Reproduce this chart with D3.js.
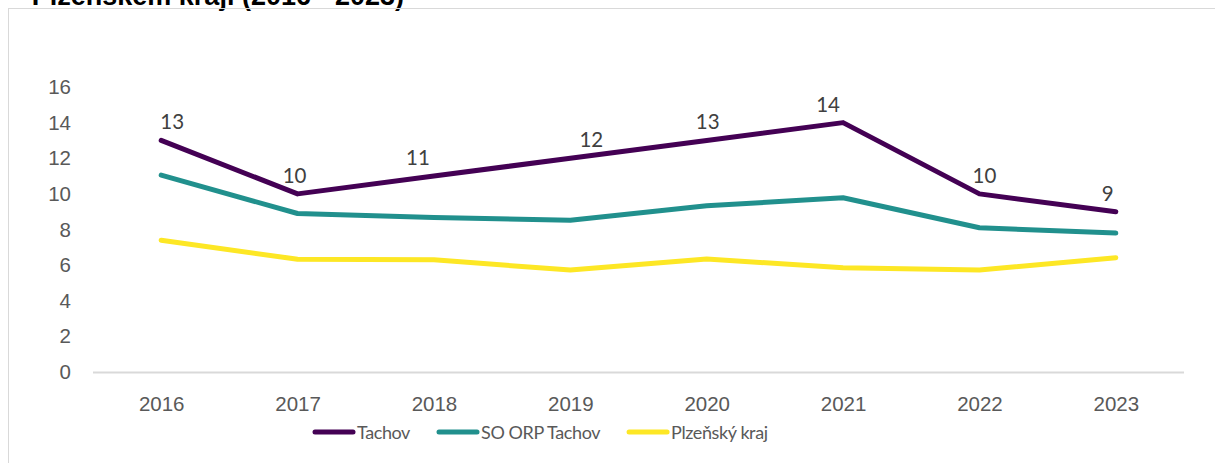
<!DOCTYPE html>
<html>
<head>
<meta charset="utf-8">
<script src="https://cdn.jsdelivr.net/npm/d3@7"></script>
<style>
  body { margin: 0; background: #fff; }
  svg { display: block; font-family: Lato, "Open Sans", sans-serif; }
  .tick text { fill: #595959; font-size: 20.5px; }
  .dataLabel { fill: #404040; font-size: 20.5px; }
  .legendText { fill: #595959; font-size: 18px; letter-spacing: -0.4px; }
</style>
</head>
<body>
<svg id="chart" width="1215" height="463"></svg>
<script>
var years = ["2016", "2017", "2018", "2019", "2020", "2021", "2022", "2023"];
var tachov = [13, 10, 11, 12, 13, 14, 10, 9];
var soOrpTachov = [11.05, 8.9, 8.68, 8.52, 9.33, 9.78, 8.1, 7.8];
var plzenskyKraj = [7.4, 6.33, 6.3, 5.72, 6.35, 5.85, 5.73, 6.42];
var yTicks = [0, 2, 4, 6, 8, 10, 12, 14, 16];

var series = [
   {name: "Tachov", values: tachov, color: "#440154"},
   {name: "SO ORP Tachov", values: soOrpTachov, color: "#21908d"},
   {name: "Plzeňský kraj", values: plzenskyKraj, color: "#fde725"}
];

//label nudges, excel has them hand placed
var labelDx = [11, -3, -16, 21, 1, -15, 5, -8];

var svg = d3.select("#chart");

//title of the chart sits above the crop, only its bottom shows
svg.append("text")
   .attr("x", 404)
   .attr("y", 5)
   .attr("text-anchor", "end")
   .style("font-family", "'Liberation Sans', Arial, sans-serif")
   .style("font-weight", "bold")
   .style("font-size", "27px")
   .attr("fill", "#000")
   .text("Plzeňském kraji (2016 - 2023)");

//chart border
svg.append("rect")
   .attr("x", 8.5)
   .attr("y", 8.5)
   .attr("width", 1220)
   .attr("height", 470)
   .attr("fill", "none")
   .attr("stroke", "#d9d9d9");

var x = d3.scalePoint().domain(years).range([93, 1184]).padding(0.5);
var y = d3.scaleLinear().domain([0, 16]).range([372, 87]);

//y axis labels only
var yAxis = svg.append("g")
   .attr("transform", "translate(71,0)")
   .call(d3.axisLeft(y).tickValues(yTicks).tickSize(0).tickPadding(0));
yAxis.select(".domain").remove();

//x axis
var xAxis = svg.append("g")
   .attr("transform", "translate(0,372)")
   .call(d3.axisBottom(x).tickSize(0).tickPadding(24));
xAxis.select(".domain")
   .attr("d", "M93,0.5H1184")
   .attr("stroke", "#d9d9d9")
   .attr("stroke-width", 2);

var line = d3.line()
   .x(function(d, i){ return x(years[i]); })
   .y(function(d){ return y(d); });

//draw back to front so tachov ends on top
series.slice().reverse().forEach(function(s){
   svg.append("path")
      .datum(s.values)
      .attr("d", line)
      .attr("fill", "none")
      .attr("stroke", s.color)
      .attr("stroke-width", 5)
      .attr("stroke-linejoin", "round")
      .attr("stroke-linecap", "round");
});

svg.selectAll(".dataLabel")
   .data(tachov)
   .enter()
   .append("text")
   .attr("class", "dataLabel")
   .attr("text-anchor", "middle")
   .attr("x", function(d, i){ return x(years[i]) + labelDx[i]; })
   .attr("y", function(d){ return y(d) - 11; })
   .text(function(d){ return d; });

//legend
var legend = svg.append("g").attr("transform", "translate(313,432)");
var lx = 0;
series.forEach(function(s){
   legend.append("line")
      .attr("x1", lx + 2).attr("x2", lx + 40)
      .attr("y1", 0).attr("y2", 0)
      .attr("stroke", s.color)
      .attr("stroke-width", 5)
      .attr("stroke-linecap", "round");
   var t = legend.append("text")
      .attr("class", "legendText")
      .attr("x", lx + 44)
      .attr("y", 7)
      .text(s.name);
   lx += 44 + t.node().getComputedTextLength() + 27;
});
</script>
</body>
</html>
